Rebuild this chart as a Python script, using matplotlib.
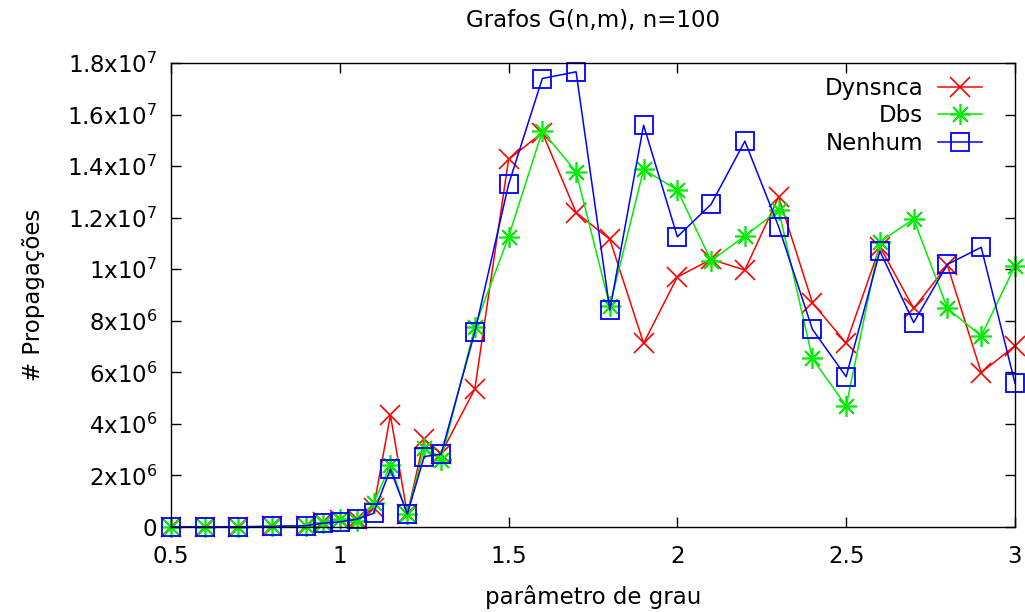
import numpy as np
import matplotlib.pyplot as plt

x = [0.5, 0.6, 0.7, 0.8, 0.9, 0.95, 1.0, 1.05, 1.1, 1.15, 1.2, 1.25, 1.3,
     1.4, 1.5, 1.6, 1.7, 1.8, 1.9, 2.0, 2.1, 2.2, 2.3, 2.4, 2.5, 2.6, 2.7,
     2.8, 2.9, 3.0]

# valores em milhoes de propagacoes
dynsnca = [0.01, 0.01, 0.01, 0.02, 0.05, 0.2, 0.28, 0.3, 0.73, 4.34, 0.5, 3.4,
           2.85, 5.35, 14.26, 15.3, 12.2, 11.16, 7.13, 9.7, 10.38, 9.97, 12.81,
           8.7, 7.13, 10.87, 8.48, 10.15, 5.99, 7.03]
dbs = [0.01, 0.01, 0.01, 0.02, 0.05, 0.15, 0.3, 0.25, 0.92, 2.4, 0.5, 3.05,
       2.6, 7.76, 11.26, 15.36, 13.78, 8.57, 13.87, 13.07, 10.33, 11.29, 12.3,
       6.54, 4.69, 11.07, 11.94, 8.48, 7.41, 10.12]
nenhum = [0.01, 0.01, 0.01, 0.02, 0.05, 0.15, 0.2, 0.3, 0.53, 2.24, 0.5, 2.73,
          2.83, 7.56, 13.29, 17.4, 17.66, 8.42, 15.59, 11.26, 12.52, 14.97,
          11.65, 7.67, 5.83, 10.7, 7.93, 10.19, 10.85, 5.58]

yticks = [0, 2e6, 4e6, 6e6, 8e6, 1e7, 1.2e7, 1.4e7, 1.6e7, 1.8e7]
ylabels = ['0', r'2x10$^{6}$', r'4x10$^{6}$', r'6x10$^{6}$', r'8x10$^{6}$',
           r'1x10$^{7}$', r'1.2x10$^{7}$', r'1.4x10$^{7}$', r'1.6x10$^{7}$',
           r'1.8x10$^{7}$']
xticks = [0.5, 1, 1.5, 2, 2.5, 3]
xlabels = ['0.5', '1', '1.5', '2', '2.5', '3']

plt.rcParams['font.family'] = 'DejaVu Sans'
plt.rcParams['font.size'] = 16.5
plt.rcParams['mathtext.default'] = 'regular'

fig = plt.figure(figsize=(10.25, 6.12), dpi=100)
ax = fig.add_axes([0.1668, 0.1389, 0.8234, 0.7581])

asterisk = (8, 2, 0)
ax.plot(x, np.array(dynsnca) * 1e6, color='#ff0000', lw=1.1, marker='x',
        ms=14, mew=1.2, label='Dynsnca', clip_on=False)
ax.plot(x, np.array(dbs) * 1e6, color='#00ee00', lw=1.1, marker=asterisk,
        ms=15, mew=1.2, label='Dbs', clip_on=False)
ax.plot(x, np.array(nenhum) * 1e6, color='#0000ff', lw=1.1, marker='s',
        ms=13, mew=1.3, fillstyle='none', label='Nenhum', clip_on=False)

ax.set_xlim(0.5, 3)
ax.set_ylim(0, 1.8e7)
ax.set_xticks(xticks)
ax.set_xticklabels(xlabels)
ax.set_yticks(yticks)
ax.set_yticklabels(ylabels)
ax.tick_params(direction='in', length=7, width=1, top=True, right=True)
ax.tick_params(axis='x', pad=13)
ax.tick_params(axis='y', pad=10)
for s in ax.spines.values():
    s.set_linewidth(1.0)

ax.set_title('Grafos G(n,m), n=100', fontsize=16.5, pad=26)
ax.set_xlabel('parâmetro de grau', labelpad=12)
ax.set_ylabel('# Propagações', labelpad=16)

ax.legend(loc='upper right', bbox_to_anchor=(0.985, 1.015), frameon=False,
          markerfirst=False, handlelength=1.9, labelspacing=0.2,
          handletextpad=0.65)

fig.savefig('out.png', dpi=100)
